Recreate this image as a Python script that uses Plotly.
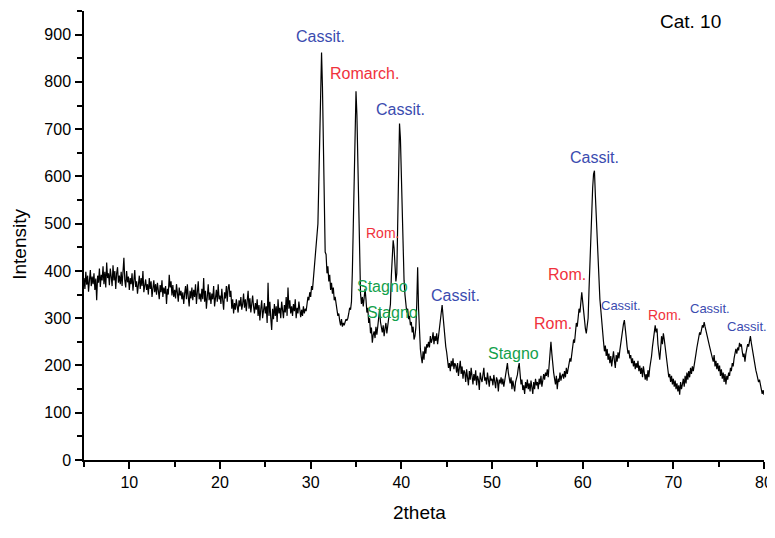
import plotly.graph_objects as go

# 2theta grid (5.0 .. 80.0, step 0.1) and intensities, one row per degree
theta_start = 5.0
theta_step = 0.1
intensity_rows = [
    [385, 362, 398, 371, 390, 356, 380, 402, 368, 388],  # 5
    [372, 395, 360, 384, 338, 390, 375, 405, 366, 392],  # 6
    [380, 410, 372, 398, 365, 418, 385, 395, 370, 405],  # 7
    [388, 368, 412, 380, 400, 362, 395, 408, 375, 390],  # 8
    [372, 398, 368, 392, 428, 380, 365, 400, 376, 388],  # 9
    [360, 385, 372, 395, 358, 380, 402, 366, 378, 352],  # 10
    [378, 390, 362, 385, 368, 400, 355, 375, 382, 360],  # 11
    [372, 350, 385, 362, 378, 345, 368, 380, 355, 372],  # 12
    [350, 375, 358, 340, 370, 355, 380, 345, 365, 352],  # 13
    [368, 330, 362, 350, 392, 365, 378, 348, 370, 345],  # 14
    [360, 342, 372, 350, 335, 365, 348, 358, 340, 355],  # 15
    [330, 352, 368, 340, 372, 345, 325, 358, 342, 365],  # 16
    [338, 360, 345, 372, 330, 355, 378, 340, 352, 335],  # 17
    [362, 340, 385, 335, 358, 320, 350, 372, 338, 355],  # 18
    [330, 352, 340, 368, 325, 345, 360, 335, 372, 340],  # 19
    [348, 330, 362, 338, 318, 355, 342, 368, 335, 365],  # 20
    [372, 345, 358, 320, 340, 310, 332, 318, 340, 325],  # 21
    [312, 338, 325, 345, 318, 330, 352, 322, 340, 315],  # 22
    [335, 358, 320, 342, 312, 335, 348, 325, 310, 332],  # 23
    [318, 340, 305, 328, 295, 320, 338, 300, 315, 332],  # 24
    [310, 325, 290, 375, 305, 335, 300, 275, 320, 298],  # 25
    [330, 305, 325, 292, 340, 310, 322, 300, 335, 315],  # 26
    [300, 328, 312, 345, 305, 365, 320, 338, 310, 325],  # 27
    [305, 330, 315, 340, 300, 322, 310, 335, 315, 302],  # 28
    [318, 305, 325, 310, 320, 315, 330, 345, 338, 355],  # 29
    [345, 368, 360, 382, 400, 418, 450, 470, 500, 590],  # 30
    [700, 810, 862, 790, 670, 540, 440, 435, 395, 410],  # 31
    [378, 392, 360, 375, 352, 365, 338, 345, 325, 318],  # 32
    [305, 310, 295, 285, 298, 282, 290, 285, 292, 298],  # 33
    [295, 300, 310, 322, 318, 335, 400, 520, 630, 720],  # 34
    [780, 730, 620, 500, 400, 352, 330, 345, 325, 350],  # 35
    [362, 340, 312, 322, 290, 300, 268, 280, 248, 265],  # 36
    [272, 258, 282, 265, 288, 296, 318, 292, 280, 270],  # 37
    [285, 262, 278, 290, 268, 282, 295, 305, 330, 390],  # 38
    [445, 465, 448, 420, 378, 395, 510, 650, 712, 680],  # 39
    [610, 500, 420, 380, 350, 330, 312, 320, 298, 305],  # 40
    [285, 292, 270, 282, 255, 262, 280, 330, 408, 320],  # 41
    [262, 235, 218, 205, 230, 212, 240, 225, 245, 238],  # 42
    [250, 238, 262, 248, 255, 270, 245, 262, 252, 268],  # 43
    [245, 262, 280, 300, 322, 328, 305, 280, 255, 240],  # 44
    [228, 212, 195, 205, 188, 210, 198, 215, 192, 205],  # 45
    [200, 185, 205, 178, 195, 210, 182, 198, 172, 190],  # 46
    [185, 165, 192, 178, 158, 188, 170, 195, 175, 160],  # 47
    [182, 168, 190, 158, 178, 170, 148, 185, 172, 165],  # 48
    [180, 195, 168, 175, 160, 185, 170, 155, 178, 168],  # 49
    [172, 158, 180, 165, 152, 175, 168, 145, 170, 162],  # 50
    [175, 160, 172, 155, 168, 182, 195, 205, 185, 170],  # 51
    [162, 175, 150, 168, 158, 145, 165, 172, 180, 195],  # 52
    [205, 182, 160, 170, 148, 158, 140, 165, 152, 170],  # 53
    [150, 162, 145, 168, 155, 140, 165, 150, 172, 158],  # 54
    [165, 150, 172, 160, 178, 155, 168, 182, 170, 185],  # 55
    [178, 192, 175, 205, 228, 250, 225, 200, 185, 172],  # 56
    [160, 178, 150, 172, 165, 185, 168, 178, 182, 172],  # 57
    [188, 175, 195, 182, 192, 200, 215, 208, 228, 240],  # 58
    [255, 248, 275, 290, 282, 300, 320, 312, 335, 355],  # 59
    [335, 312, 292, 278, 268, 282, 300, 360, 420, 480],  # 60
    [530, 575, 605, 612, 560, 510, 465, 430, 380, 340],  # 61
    [318, 290, 265, 250, 230, 242, 220, 235, 212, 225],  # 62
    [205, 220, 198, 215, 230, 210, 195, 222, 208, 228],  # 63
    [215, 232, 248, 260, 275, 288, 296, 282, 260, 240],  # 64
    [225, 232, 215, 222, 205, 215, 198, 210, 192, 205],  # 65
    [195, 210, 188, 200, 182, 195, 175, 198, 185, 170],  # 66
    [182, 168, 190, 175, 195, 205, 220, 240, 258, 275],  # 67
    [285, 270, 278, 245, 228, 212, 235, 262, 245, 268],  # 68
    [255, 240, 218, 198, 190, 175, 182, 165, 178, 160],  # 69
    [172, 155, 168, 150, 162, 145, 158, 138, 165, 150],  # 70
    [160, 172, 155, 178, 162, 185, 170, 188, 175, 195],  # 71
    [182, 198, 188, 205, 215, 225, 238, 248, 262, 270],  # 72
    [265, 278, 285, 280, 292, 282, 272, 265, 255, 248],  # 73
    [240, 232, 225, 215, 208, 222, 198, 210, 192, 205],  # 74
    [188, 200, 178, 192, 172, 185, 165, 182, 160, 178],  # 75
    [170, 185, 178, 195, 188, 205, 198, 215, 225, 235],  # 76
    [225, 238, 232, 248, 240, 245, 230, 218, 225, 208],  # 77
    [225, 235, 245, 240, 252, 262, 248, 235, 222, 210],  # 78
    [200, 190, 182, 175, 165, 170, 160, 152, 140, 148],  # 79
    [138],                                               # 80
]

# peak labels: (text, 2theta, intensity, phase, font size)
peak_labels = [
    ("Cassit.", 31.07, 895, "cass", 16),
    ("Romarch.", 35.9, 817, "rom", 16),
    ("Cassit.", 39.94, 741, "cass", 16),
    ("Rom.", 37.87, 480, "rom", 14),
    ("Stagno", 37.96, 367, "stag", 16),
    ("Stagno", 39.0, 313, "stag", 16),
    ("Cassit.", 45.98, 349, "cass", 16),
    ("Stagno", 52.37, 226, "stag", 16),
    ("Rom.", 56.78, 289, "rom", 16),
    ("Rom.", 58.26, 392, "rom", 16),
    ("Cassit.", 61.32, 641, "cass", 16),
    ("Cassit.", 64.24, 326, "cass", 13),
    ("Rom.", 69.0, 307, "rom", 14),
    ("Cassit.", 74.05, 321, "cass", 13),
    ("Cassit.", 78.09, 282, "cass", 13),
]
sample_label = "Cat. 10"
x_title = "2theta"
y_title = "Intensity"

intensity = [v for row in intensity_rows for v in row]
theta = [round(theta_start + theta_step * i, 2) for i in range(len(intensity))]

phase_colors = {"cass": "#3B4BAF", "rom": "#F0323C", "stag": "#13A04C"}
FONT = "Liberation Sans, Arial, sans-serif"

fig = go.Figure()
fig.add_trace(go.Scatter(x=theta, y=intensity, mode="lines",
                         line=dict(color="black", width=1.2), hoverinfo="x+y"))

for text, x, y, phase, size in peak_labels:
    fig.add_annotation(x=x, y=y, xref="x", yref="y", text=text, showarrow=False,
                       xanchor="center", yanchor="middle",
                       font=dict(family=FONT, size=size, color=phase_colors[phase]))

fig.add_annotation(x=71.84, y=928, xref="x", yref="y", text=sample_label, showarrow=False,
                   xanchor="center", yanchor="middle",
                   font=dict(family=FONT, size=19, color="black"))
fig.add_annotation(x=-0.096, y=0.481, xref="paper", yref="paper", text=y_title,
                   showarrow=False, textangle=-90, xanchor="center", yanchor="middle",
                   font=dict(family=FONT, size=19, color="black"))
fig.add_annotation(x=0.494, y=-0.118, xref="paper", yref="paper", text=x_title,
                   showarrow=False, xanchor="center", yanchor="middle",
                   font=dict(family=FONT, size=19, color="black"))

axis_common = dict(showgrid=False, zeroline=False, showline=True, linecolor="black",
                   linewidth=1.5, ticks="outside", ticklen=7, tickwidth=1.5,
                   tickcolor="black", mirror=False,
                   tickfont=dict(family=FONT, size=16, color="black"))

fig.update_xaxes(range=[5, 80], tick0=0, dtick=10,
                 minor=dict(dtick=5, ticks="outside", ticklen=5, tickwidth=1.5,
                            tickcolor="black"),
                 **axis_common)
fig.update_yaxes(range=[0, 950], tick0=0, dtick=100,
                 minor=dict(dtick=50, ticks="outside", ticklen=5, tickwidth=1.5,
                            tickcolor="black"),
                 ticklabelstandoff=1,
                 **axis_common)

# the page body keeps an 8px margin, so the figure is sized to sit inside the window
fig.update_layout(width=767, height=522, autosize=False,
                  margin=dict(l=76, r=11, t=3, b=70),
                  plot_bgcolor="white", paper_bgcolor="white", showlegend=False,
                  font=dict(family=FONT))

fig.write_html("out.html",
               config={"responsive": False, "displayModeBar": False},
               post_script="document.documentElement.style.overflow='hidden';")
